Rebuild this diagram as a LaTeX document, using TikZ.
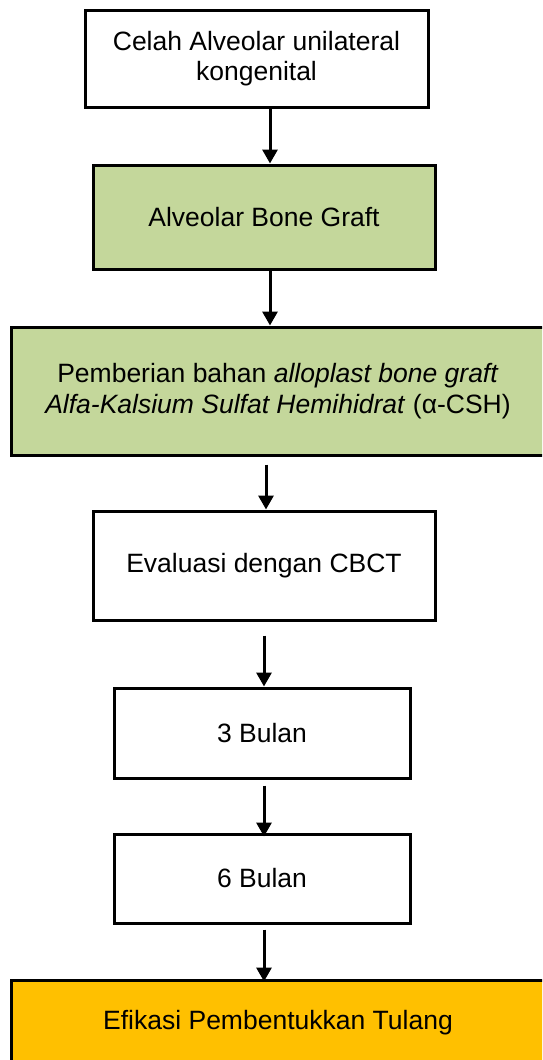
\documentclass[tikz,border=0pt]{standalone}
\usepackage{fontspec}
\setmainfont{Liberation Sans}
\usetikzlibrary{arrows.meta}
\definecolor{graftgreen}{RGB}{196,215,155}
\definecolor{hasilorange}{RGB}{255,192,0}
\tikzset{
  kotak/.style={draw=black, line width=3pt, fill=white, align=center,
    font=\fontsize{26.5}{30.5}\selectfont, inner sep=0pt},
  panah/.style={line width=3pt, -{Triangle[width=15pt,length=14pt]}},
}
\begin{document}
\begin{tikzpicture}[x=1pt,y=1pt]
  \useasboundingbox (0,0) rectangle (542,-1060);
  \clip (0,0) rectangle (542,-1060);
  % alur kotak
  \node[kotak, minimum width=343pt, minimum height=97pt] (celah) at (256.5,-58.5)
    {Celah Alveolar unilateral\\kongenital};
  \node[kotak, fill=graftgreen, minimum width=342pt, minimum height=104pt] (abg) at (264,-217)
    {Alveolar Bone Graft};
  \node[kotak, fill=graftgreen, minimum width=534pt, minimum height=128pt] (bahan) at (278,-391)
    {Pemberian bahan \textit{alloplast bone graft}\\\textit{Alfa-Kalsium Sulfat Hemihidrat} (α-CSH)};
  \node[kotak, minimum width=342pt, minimum height=109pt] (cbct) at (264,-565.5)
    {Evaluasi dengan CBCT};
  \node[kotak, minimum width=296pt, minimum height=90pt] (tiga) at (262,-733)
    {3 Bulan};
  \node[kotak, minimum width=296pt, minimum height=89pt] (enam) at (262,-878.5)
    {6 Bulan};
  \node[kotak, fill=hasilorange, minimum width=534pt, minimum height=86pt] (efikasi) at (278,-1023)
    {Efikasi Pembentukkan Tulang};
  % panah
  \draw[panah] ([xshift=13.5pt]celah.south) -- ([xshift=13.5pt]celah.south |- abg.north);
  \draw[panah] ([xshift=6pt]abg.south) -- ([xshift=6pt]abg.south |- bahan.north);
  \draw[panah] ([xshift=-12pt,yshift=-8pt]bahan.south) -- ([xshift=-12pt]bahan.south |- cbct.north);
  \draw[panah] ([yshift=-14pt]cbct.south) -- (cbct.south |- tiga.north);
  \draw[panah] ([xshift=2pt,yshift=-6pt]tiga.south) -- ([xshift=2pt,yshift=-4pt]tiga.south |- enam.north);
  \draw[panah] ([xshift=2pt,yshift=-5pt]enam.south) -- ([xshift=2pt,yshift=-3pt]enam.south |- efikasi.north);
\end{tikzpicture}
\end{document}
